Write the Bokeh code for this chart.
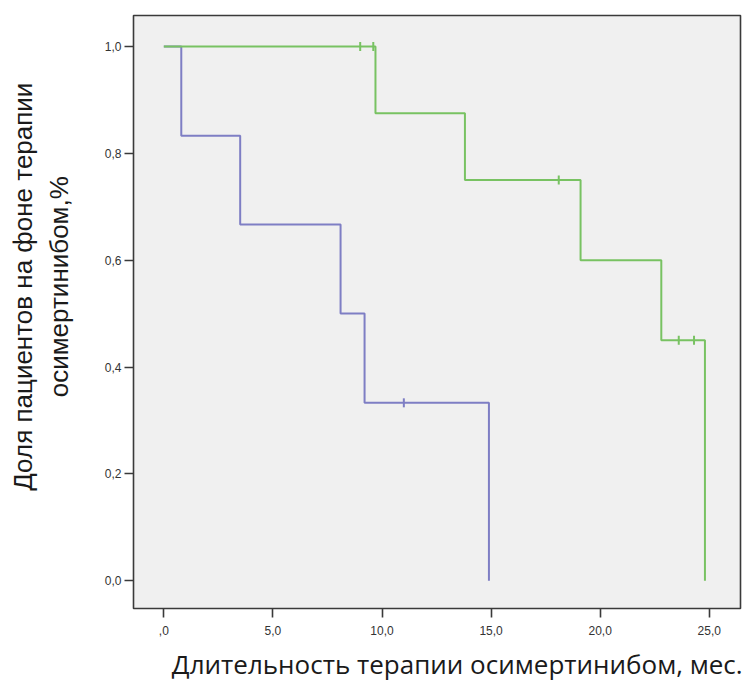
import math
from bokeh.plotting import figure
from bokeh.models import Range1d, FixedTicker
from bokeh.embed import file_html
from bokeh.resources import INLINE

# Kaplan-Meier data (months, share of patients)
blue_t = [0.0, 0.8, 3.5, 8.1, 9.2, 14.9]
blue_s = [1.0, 0.833, 0.667, 0.5, 0.333, 0.0]
blue_cens_t = [11.0]
blue_cens_s = [0.333]

green_t = [0.0, 9.7, 13.8, 19.1, 22.8, 24.8]
green_s = [1.0, 0.875, 0.75, 0.6, 0.45, 0.0]
green_cens_t = [9.0, 9.6, 18.1, 23.6, 24.3]
green_cens_s = [1.0, 1.0, 0.75, 0.45, 0.45]

x_ticks = [0, 5, 10, 15, 20, 25]
x_tick_labels = [",0", "5,0", "10,0", "15,0", "20,0", "25,0"]
y_ticks = [0.0, 0.2, 0.4, 0.6, 0.8, 1.0]
y_tick_labels = ["0,0", "0,2", "0,4", "0,6", "0,8", "1,0"]

x_title = "Длительность терапии осимертинибом, мес."
y_title_1 = "Доля пациентов на фоне терапии"
y_title_2 = "осимертинибом,%"

BLUE = "#7e7ec4"
GREEN = "#78c262"

p = figure(width=742, height=684, output_backend="svg", toolbar_location=None,
           x_range=Range1d(-1.39, 26.43), y_range=Range1d(-0.052, 1.058),
           min_border_left=133, min_border_right=2, min_border_top=15, min_border_bottom=74)

p.background_fill_color = "#f0f0f0"
p.border_fill_color = "white"
p.outline_line_color = "#3a3a3a"
p.outline_line_width = 1.6
p.grid.visible = False

for ax in (p.xaxis[0], p.yaxis[0]):
    ax.axis_line_color = None
    ax.major_tick_in = 0
    ax.major_tick_out = 9
    ax.major_tick_line_color = "#3a3a3a"
    ax.major_tick_line_width = 1.6
    ax.minor_tick_line_color = None
    ax.major_label_text_font = "Liberation Sans"
    ax.major_label_text_font_size = "12px"
    ax.major_label_text_color = "#333333"
    ax.axis_label_text_font_style = "normal"
    ax.axis_label_text_color = "#1a1a1a"
    ax.axis_label_text_font_size = "26px"

p.xaxis.ticker = FixedTicker(ticks=x_ticks)
p.xaxis.major_label_overrides = {t: l for t, l in zip(x_ticks, x_tick_labels)}
p.xaxis.major_label_standoff = 8
p.xaxis.axis_label = "\u00a0" * 6 + x_title
p.xaxis.axis_label_text_font = "Open Sans"
p.xaxis.axis_label_standoff = 8

pad = "\u00a0" * 7
p.yaxis.ticker = FixedTicker(ticks=y_ticks)
p.yaxis.major_label_overrides = {t: l for t, l in zip(y_ticks, y_tick_labels)}
p.yaxis.major_label_standoff = 3
p.yaxis.axis_label = pad + y_title_1 + "\n" + pad + y_title_2
p.yaxis.axis_label_text_font = "Liberation Sans"
p.yaxis.axis_label_standoff = 28

p.step(blue_t, blue_s, mode="after", line_color=BLUE, line_width=2)
p.step(green_t, green_s, mode="after", line_color=GREEN, line_width=2)
p.scatter(blue_cens_t, blue_cens_s, marker="dash", angle=math.pi / 2, size=9,
          line_color=BLUE, line_width=2)
p.scatter(green_cens_t, green_cens_s, marker="dash", angle=math.pi / 2, size=9,
          line_color=GREEN, line_width=2)

open("out.html", "w").write(file_html(p, INLINE))
